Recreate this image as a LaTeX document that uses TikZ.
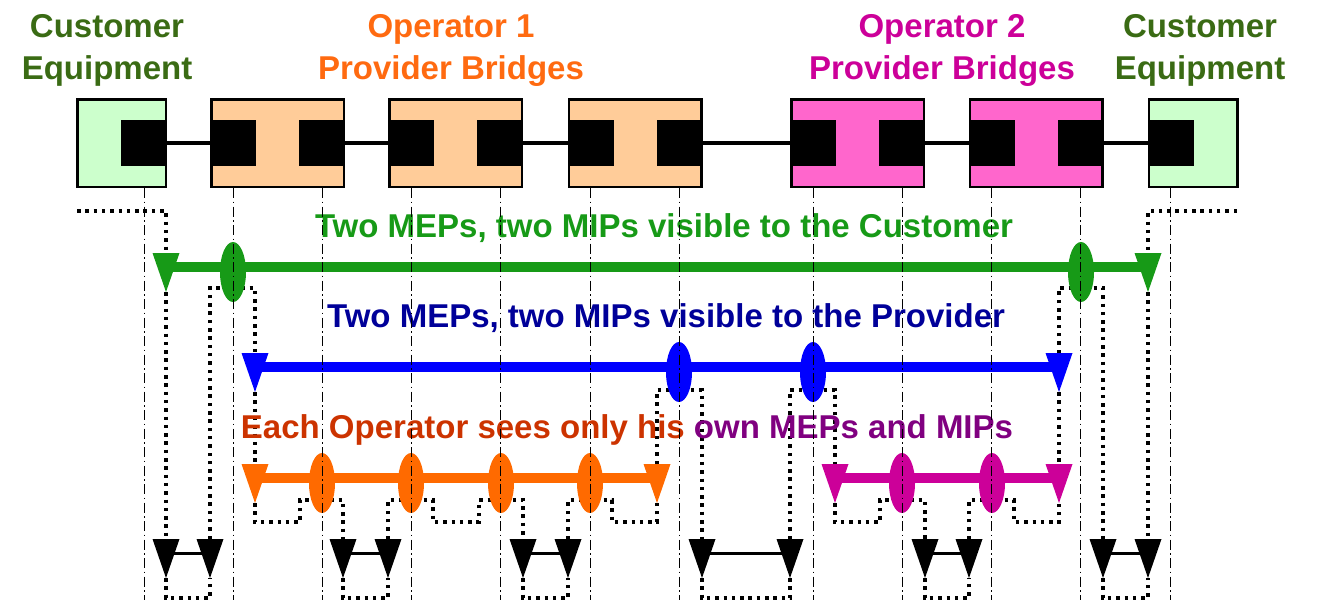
\documentclass[tikz,border=0pt]{standalone}
\usepackage{fontspec}
\setmainfont{Liberation Sans}
\usetikzlibrary{shapes.geometric,calc}
\pgfdeclarelayer{back}
\pgfsetlayers{back,main}
\definecolor{cefill}{HTML}{CCFFCC}
\definecolor{op1fill}{HTML}{FFCC99}
\definecolor{op2fill}{HTML}{FF66CC}
\definecolor{cetxt}{HTML}{3A6B14}
\definecolor{op1txt}{HTML}{FF6A10}
\definecolor{op2txt}{HTML}{CC0099}
\definecolor{cusgreen}{HTML}{179A17}
\definecolor{provblue}{HTML}{0000FF}
\definecolor{provtxt}{HTML}{000099}
\definecolor{op1line}{HTML}{FF6A00}
\definecolor{op2line}{HTML}{CC0099}
\definecolor{rust}{HTML}{CC3300}
\definecolor{purp}{HTML}{800080}
\tikzset{
  box/.style={draw, line width=1.25pt, minimum width=44.25pt, minimum height=43.75pt, inner sep=0pt},
  bridge/.style={box, minimum width=66.25pt},
  port/.style={fill=black, minimum size=23pt, inner sep=0pt, outer sep=0pt},
  link/.style={line width=1.75pt},
  mip/.style={ellipse, minimum width=13pt, minimum height=30pt, inner sep=0pt},
  level/.style={line width=5pt},
  thread/.style={line width=1.75pt, dash pattern=on 1.75pt off 2.4pt},
  axis/.style={line width=0.5pt, dash pattern=on 5pt off 1.75pt on 0.75pt off 1.75pt},
  title/.style={font=\fontsize{16.5}{21}\selectfont\bfseries, align=center, anchor=north, inner sep=0pt},
  caption/.style={font=\fontsize{16.5}{20}\selectfont\bfseries, anchor=base, inner sep=0pt},
  mep/.pic={
    \fill (-13.5,-14) -- (13.5,-14) -- (0,25) -- cycle;
    \coordinate (-c) at (0,0);
    \coordinate (-top) at (0,-14);
    \coordinate (-tip) at (0,25);
  },
}
\begin{document}
\begin{tikzpicture}[x=0.5pt, y=-0.5pt]
  \useasboundingbox (0,0) rectangle (1317,600);
  \coordinate (bot) at (0,600);
  \node[title, text=cetxt] (tL) at (107,14) {Customer\\Equipment};
  \node[title, text=op1txt] (t1) at (451,14) {Operator 1\\Provider Bridges};
  \node[title, text=op2txt] (t2) at (942,14) {Operator 2\\Provider Bridges};
  \node[title, text=cetxt] (tR) at (1200,14) {Customer\\Equipment};

  \node[box, fill=cefill] (ceL) at (121.5,143) {};
  \node[bridge, fill=op1fill] (b1) at (277.5,143) {};
  \node[bridge, fill=op1fill] (b2) at (455.5,143) {};
  \node[bridge, fill=op1fill] (b3) at (635,143) {};
  \node[bridge, fill=op2fill] (b4) at (857.5,143) {};
  \node[bridge, fill=op2fill] (b5) at (1036,143) {};
  \node[box, fill=cefill] (ceR) at (1193,143) {};
  \node[port, anchor=east] (pL) at (ceL.east) {};
  \node[port, anchor=west] (pR) at (ceR.west) {};
  \foreach \b in {b1,b2,b3,b4,b5} {
    \node[port, anchor=west] (\b-w) at (\b.west) {};
    \node[port, anchor=east] (\b-e) at (\b.east) {};
  }
  \draw[link] (pL) -- (b1-w);
  \draw[link] (b1-e) -- (b2-w);
  \draw[link] (b2-e) -- (b3-w);
  \draw[link] (b3-e) -- (b4-w);
  \draw[link] (b4-e) -- (b5-w);
  \draw[link] (b5-e) -- (pR);

  \node[caption, text=cusgreen] (cap1) at (664,237) {Two MEPs, two MIPs visible to the Customer};
  \node[caption, text=provtxt] (cap2) at (666,327) {Two MEPs, two MIPs visible to the Provider};
  \node[caption] (cap3) at (627,438) {{\color{rust}Each Operator sees only his} {\color{purp}own MEPs and MIPs}};

  \pic[cusgreen] (gA) at (166,267) {mep};
  \pic[cusgreen] (gZ) at (1148,267) {mep};
  \draw[level, cusgreen] (gA-c) -- (gZ-c);
  \node[mip, fill=cusgreen] (gB) at (233,272) {};
  \node[mip, fill=cusgreen] (gY) at (1081,272) {};

  \pic[provblue] (bA) at (255,367) {mep};
  \pic[provblue] (bZ) at (1059,367) {mep};
  \draw[level, provblue] (bA-c) -- (bZ-c);
  \node[mip, fill=provblue] (bB) at (679,372) {};
  \node[mip, fill=provblue] (bY) at (813,372) {};

  \pic[op1line] (oA) at (255,478) {mep};
  \pic[op1line] (oZ) at (657,478) {mep};
  \draw[level, op1line] (oA-c) -- (oZ-c);
  \foreach \x [count=\i] in {322,411,501,590}
    \node[mip, fill=op1line] (o\i) at (\x,483) {};

  \pic[op2line] (mA) at (835,478) {mep};
  \pic[op2line] (mZ) at (1059,478) {mep};
  \draw[level, op2line] (mA-c) -- (mZ-c);
  \node[mip, fill=op2line] (m1) at (902,483) {};
  \node[mip, fill=op2line] (m2) at (992,483) {};

  \foreach \a/\b [count=\i] in {166/210,343/388,523/568,702/790,925/969,1103/1148} {
    \pic (k\i-a) at (\a,553) {mep};
    \pic (k\i-b) at (\b,553) {mep};
    \draw[line width=1.5pt] (k\i-a-c) -- (k\i-b-c);
    \begin{pgfonlayer}{back}
      \draw[thread] (k\i-a-tip) -- ++(0,20) -| (k\i-b-tip);
    \end{pgfonlayer}
  }

  \coordinate (inL) at (77,211);
  \coordinate (inR) at (1237,211);
  \begin{pgfonlayer}{back}
    \draw[thread] (inL) -| (gA-top);
    \draw[thread] (gA-tip) -- (k1-a-top);
    \draw[thread] (k1-b-top) |- ($(gB)+(0,16)$) -| (bA-top);
    \draw[thread] (bA-tip) -- (oA-top);
    \draw[thread] (oA-tip) |- ($(o1)+(-22,39)$) |- ($(o1)+(0,17)$) -| (k2-a-top);
    \draw[thread] (k2-b-top) |- ($(o2)+(0,17)$) -| ($(o2)+(22,39)$) -| ($(o3)+(-22,17)$) -| (k3-a-top);
    \draw[thread] (k3-b-top) |- ($(o4)+(0,17)$) -| ($(o4)+(22,39)$) -| (oZ-tip);
    \draw[thread] (oZ-top) |- ($(bB)+(0,18)$) -| (k4-a-top);
    \draw[thread] (k4-b-top) |- ($(bY)+(0,18)$) -| (mA-top);
    \draw[thread] (mA-tip) |- ($(m1)+(-22,39)$) |- ($(m1)+(0,17)$) -| (k5-a-top);
    \draw[thread] (k5-b-top) |- ($(m2)+(0,17)$) -| ($(m2)+(22,39)$) -| (mZ-tip);
    \draw[thread] (bZ-tip) -- (mZ-top);
    \draw[thread] (bZ-top) |- ($(gY)+(0,16)$) -| (k6-a-top);
    \draw[thread] (gZ-tip) -- (k6-b-top);
    \draw[thread] (inR) -| (gZ-top);
  \end{pgfonlayer}

  \foreach \p in {pL,b1-w,b1-e,b2-w,b2-e,b3-w,b3-e,b4-w,b4-e,b5-w,b5-e,pR}
    \draw[axis] (\p |- ceL.south) -- (\p |- bot);
\end{tikzpicture}
\end{document}
